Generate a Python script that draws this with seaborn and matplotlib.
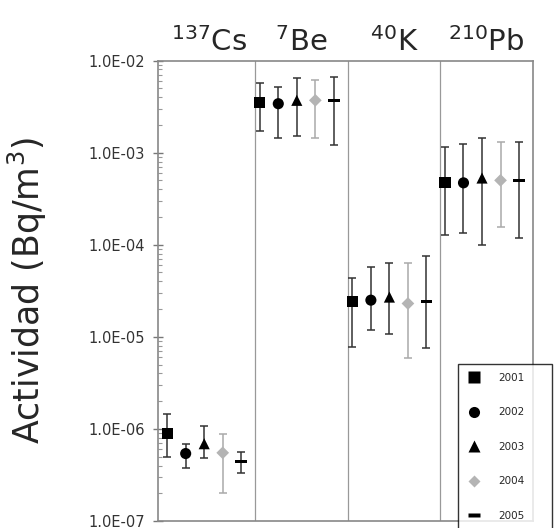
import numpy as np
import pandas as pd
import seaborn as sns
import matplotlib.pyplot as plt
from matplotlib.path import Path
from matplotlib.lines import Line2D
from matplotlib.ticker import FuncFormatter, LogLocator

nuclides = [r'$^{137}$Cs', r'$^{7}$Be', r'$^{40}$K', r'$^{210}$Pb']
years = ['2001', '2002', '2003', '2004', '2005']

# actividad media y extremos de la barra de error (Bq/m3), orden Cs, Be, K, Pb
act_2001 = [8.9e-7, 3.5e-3, 2.4e-5, 4.7e-4]
lo_2001 = [5.0e-7, 1.7e-3, 7.8e-6, 1.26e-4]
hi_2001 = [1.44e-6, 5.7e-3, 4.3e-5, 1.15e-3]

act_2002 = [5.4e-7, 3.4e-3, 2.5e-5, 4.7e-4]
lo_2002 = [3.8e-7, 1.45e-3, 1.18e-5, 1.35e-4]
hi_2002 = [6.9e-7, 5.2e-3, 5.8e-5, 1.23e-3]

act_2003 = [6.9e-7, 3.7e-3, 2.7e-5, 5.3e-4]
lo_2003 = [4.8e-7, 1.5e-3, 1.07e-5, 1.0e-4]
hi_2003 = [1.07e-6, 6.5e-3, 6.4e-5, 1.45e-3]

act_2004 = [5.5e-7, 3.7e-3, 2.3e-5, 5.0e-4]
lo_2004 = [2.0e-7, 1.45e-3, 5.9e-6, 1.55e-4]
hi_2004 = [8.9e-7, 6.2e-3, 6.4e-5, 1.3e-3]

act_2005 = [4.4e-7, 3.7e-3, 2.4e-5, 5.0e-4]
lo_2005 = [3.3e-7, 1.2e-3, 7.6e-6, 1.17e-4]
hi_2005 = [5.6e-7, 6.7e-3, 7.6e-5, 1.3e-3]

act = [act_2001, act_2002, act_2003, act_2004, act_2005]
lo = [lo_2001, lo_2002, lo_2003, lo_2004, lo_2005]
hi = [hi_2001, hi_2002, hi_2003, hi_2004, hi_2005]

rows = []
for i, yr in enumerate(years):
    for j, nuc in enumerate(nuclides):
        rows.append({'year': yr, 'x': j - 0.45 + 0.2 * i,
                     'act': act[i][j], 'lo': lo[i][j], 'hi': hi[i][j]})
df = pd.DataFrame(rows)

dash = Path([(-1, -0.28), (1, -0.28), (1, 0.28), (-1, 0.28), (-1, -0.28)],
            [Path.MOVETO, Path.LINETO, Path.LINETO, Path.LINETO, Path.CLOSEPOLY])
markers = {'2001': 's', '2002': 'o', '2003': '^', '2004': 'D', '2005': dash}
sizes = {'2001': 64, '2002': 64, '2003': 64, '2004': 42, '2005': 70}
colors = {'2001': 'black', '2002': 'black', '2003': 'black', '2004': '#b4b4b4', '2005': 'black'}
bar_colors = {'2001': '#333333', '2002': '#333333', '2003': '#333333', '2004': '#aaaaaa', '2005': '#333333'}

sns.set_style('white')
fig = plt.figure(figsize=(5.54, 5.28), dpi=100)
ax = fig.add_axes([0.285, 0.0133, 0.677, 0.872])

for yr in years:
    d = df[df['year'] == yr]
    ax.errorbar(d['x'], d['act'], yerr=[d['act'] - d['lo'], d['hi'] - d['act']],
                fmt='none', ecolor=bar_colors[yr], elinewidth=1.1, capsize=3, capthick=1.1, zorder=2)

for yr in years:
    d = df[df['year'] == yr]
    sns.scatterplot(data=d, x='x', y='act', marker=markers[yr], s=sizes[yr],
                    color=colors[yr], edgecolor='none', ax=ax, zorder=3, legend=False)

ax.set_yscale('log')
ax.set_ylim(1e-7, 1e-2)
ax.set_xlim(-0.55, 3.5)
ax.set_xticks([])
ax.set_xlabel('')
ax.set_ylabel('Actividad (Bq/m$^3$)', fontsize=25)
ax.yaxis.set_label_coords(-0.29, 0.5)

ax.yaxis.set_major_locator(LogLocator(base=10))
ax.yaxis.set_minor_locator(LogLocator(base=10, subs=np.arange(2, 10)))
ax.yaxis.set_major_formatter(FuncFormatter(lambda v, p: '1.0E-%02d' % round(-np.log10(v))))
ax.tick_params(axis='y', which='major', direction='inout', length=7, width=1, color='#777777',
               labelsize=10.5, labelcolor='#333333', left=True, pad=6)
ax.tick_params(axis='y', which='minor', direction='in', length=3, width=0.8, color='#999999', left=True)

for s in ax.spines.values():
    s.set_color('#888888')
    s.set_linewidth(1.2)
for xb in [0.5, 1.5, 2.5]:
    ax.axvline(xb, color='#999999', lw=0.9, zorder=1)

for j, nuc in enumerate(nuclides):
    ax.text(j, 1.008, nuc, transform=ax.get_xaxis_transform(), ha='center', va='bottom', fontsize=21)

handles = []
for yr in years:
    handles.append(Line2D([], [], linestyle='none', marker=markers[yr], color=colors[yr],
                          markersize=np.sqrt(sizes[yr]), markeredgecolor='none'))
leg = ax.legend(handles, years, loc='lower left', bbox_to_anchor=(0.8, -0.02, 0.25, 0.35),
                mode='expand', fontsize=7.5, frameon=True, fancybox=False, edgecolor='black',
                labelspacing=2.35, handlelength=1.2, handletextpad=1.8, borderpad=0.9, borderaxespad=0)
leg.get_frame().set_linewidth(1.0)

fig.savefig('out.png', dpi=100)
